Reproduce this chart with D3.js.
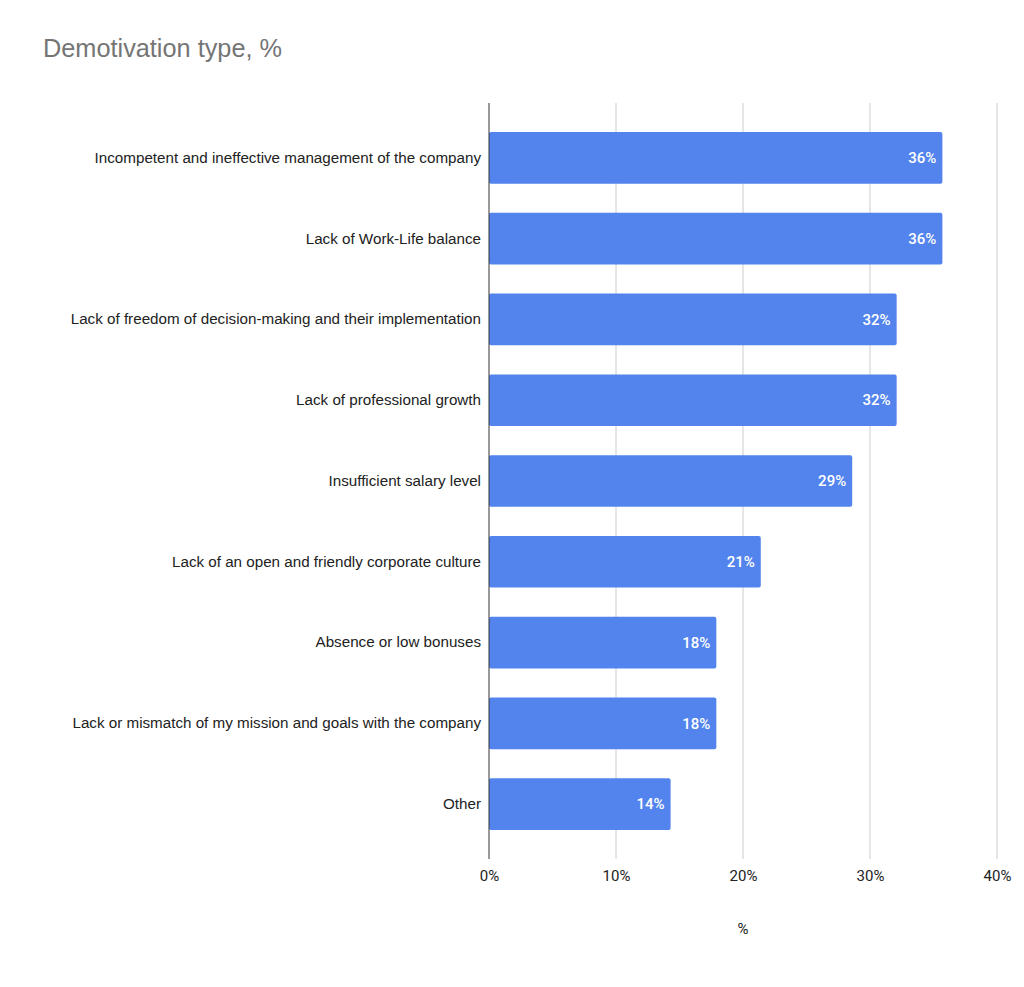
<!DOCTYPE html>
<html>
<head>
<meta charset="utf-8">
<script src="https://cdn.jsdelivr.net/npm/d3@7"></script>
<style>
  html, body { margin: 0; padding: 0; background: #fff; }
  svg { display: block; }
</style>
</head>
<body>
<div id="chart"></div>
<script>
// Data
const categories = [
  'Incompetent and ineffective management of the company',
  'Lack of Work-Life balance',
  'Lack of freedom of decision-making and their implementation',
  'Lack of professional growth',
  'Insufficient salary level',
  'Lack of an open and friendly corporate culture',
  'Absence or low bonuses',
  'Lack or mismatch of my mission and goals with the company',
  'Other'
];
const values = [35.7, 35.7, 32.1, 32.1, 28.6, 21.4, 17.9, 17.9, 14.3];
const labels = ['36%', '36%', '32%', '32%', '29%', '21%', '18%', '18%', '14%'];
const xTicks = [0, 10, 20, 30, 40];

const W = 1024, H = 987;
const plot = { left: 489, right: 997, top: 103, bottom: 859 };

const svg = d3.select('#chart').append('svg')
  .attr('width', W).attr('height', H);

// Title
svg.append('text')
  .attr('x', 43).attr('y', 57)
  .attr('font-family', 'Liberation Sans, Arial, sans-serif')
  .attr('font-size', 25.3)
  .attr('fill', '#757575')
  .text('Demotivation type, %');

const x = d3.scaleLinear().domain([0, 40]).range([plot.left, plot.right]);
const y = d3.scaleBand().domain(categories)
  .range([plot.top, plot.bottom])
  .paddingInner(0.36).paddingOuter(0.36);

// Gridlines
svg.append('g')
  .selectAll('line')
  .data(xTicks.filter(d => d !== 0))
  .join('line')
  .attr('x1', d => x(d)).attr('x2', d => x(d))
  .attr('y1', plot.top).attr('y2', plot.bottom)
  .attr('stroke', '#cccccc').attr('stroke-width', 1);

// Bars
svg.append('g')
  .selectAll('rect')
  .data(values)
  .join('rect')
  .attr('x', x(0))
  .attr('y', (d, i) => y(categories[i]))
  .attr('width', d => x(d) - x(0))
  .attr('height', y.bandwidth())
  .attr('rx', 2)
  .attr('fill', '#5384ed');

// Data labels
svg.append('g')
  .selectAll('text')
  .data(values)
  .join('text')
  .attr('x', d => x(d) - 6)
  .attr('y', (d, i) => y(categories[i]) + y.bandwidth() / 2)
  .attr('dy', '0.35em')
  .attr('text-anchor', 'end')
  .attr('font-family', 'Roboto, sans-serif')
  .attr('font-weight', 500)
  .attr('font-size', 15)
  .attr('fill', '#ffffff')
  .text((d, i) => labels[i]);

// Zero axis line
svg.append('line')
  .attr('x1', x(0)).attr('x2', x(0))
  .attr('y1', plot.top).attr('y2', plot.bottom)
  .attr('stroke', '#333333').attr('stroke-width', 1);

// Y axis labels
const yAxis = d3.axisLeft(y).tickSize(0).tickPadding(8);
svg.append('g')
  .attr('transform', `translate(${plot.left},0)`)
  .call(yAxis)
  .call(g => g.select('.domain').remove())
  .call(g => g.selectAll('text')
    .attr('font-family', 'Liberation Sans, Arial, sans-serif')
    .attr('font-size', 15.2)
    .attr('fill', '#222222'));

// X axis labels
const xAxis = d3.axisBottom(x).tickValues(xTicks).tickSize(0).tickPadding(11)
  .tickFormat(d => d + '%');
svg.append('g')
  .attr('transform', `translate(0,${plot.bottom})`)
  .call(xAxis)
  .call(g => g.select('.domain').remove())
  .call(g => g.selectAll('text')
    .attr('font-family', 'Roboto, sans-serif')
    .attr('font-size', 15)
    .attr('fill', '#222222'));

// X axis title
svg.append('text')
  .attr('x', (plot.left + plot.right) / 2)
  .attr('y', 934)
  .attr('text-anchor', 'middle')
  .attr('font-family', 'Roboto, sans-serif')
  .attr('font-size', 15)
  .attr('fill', '#222222')
  .text('%');
</script>
</body>
</html>
